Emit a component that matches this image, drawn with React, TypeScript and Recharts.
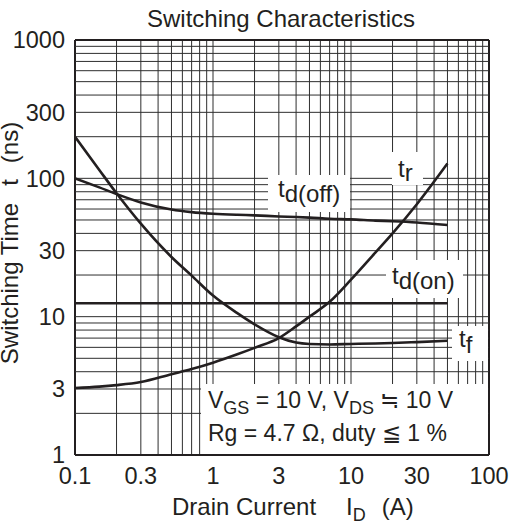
import { LineChart, Line, XAxis, YAxis, ReferenceLine } from "recharts";

// drain current (A) sample points, shared by all curves
const currentA = [0.1, 0.15, 0.2, 0.3, 0.5, 0.7, 1, 1.5, 2, 3, 4, 5, 7, 10, 15, 20, 30, 50];

// switching times (ns)
const trNs = [3.05, 3.12, 3.2, 3.37, 3.84, 4.18, 4.65, 5.35, 5.95, 7.0, 8.5, 10.0, 12.8, 18.5, 29, 40, 65, 128];
const tfNs = [200, 115, 78, 47, 27, 19.8, 14.2, 10.6, 8.8, 7.1, 6.5, 6.35, 6.3, 6.35, 6.4, 6.45, 6.55, 6.7];
const tdOffNs = [100, 86, 77, 67, 59.5, 57, 55.5, 54.5, 54, 53, 52.5, 52, 51, 50.5, 49.5, 49, 48, 46];
const tdOnNs = [12.5, 12.5, 12.5, 12.5, 12.5, 12.5, 12.5, 12.5, 12.5, 12.5, 12.5, 12.5, 12.5, 12.5, 12.5, 12.5, 12.5, 12.5];

const xTicks = [0.1, 0.3, 1, 3, 10, 30, 100];
const yTicks = [1, 3, 10, 30, 100, 300, 1000];

// log grid: 1..9 in every decade
const xGrid = [
  0.1, 0.2, 0.3, 0.4, 0.5, 0.6, 0.7, 0.8, 0.9,
  1, 2, 3, 4, 5, 6, 7, 8, 9,
  10, 20, 30, 40, 50, 60, 70, 80, 90, 100,
];
const yGrid = [
  1, 2, 3, 4, 5, 6, 7, 8, 9,
  10, 20, 30, 40, 50, 60, 70, 80, 90,
  100, 200, 300, 400, 500, 600, 700, 800, 900, 1000,
];

const FONT = '"Liberation Sans", Arial, Helvetica, sans-serif';
const INK = "#231f20";

const toPoints = (ys: number[]) => currentA.map((x, i) => ({ x, y: ys[i] }));

export default function App() {
  const tick = { fill: INK, fontSize: 23.5, fontFamily: FONT };
  const curve = { stroke: INK, strokeWidth: 2.6, dot: false, isAnimationActive: false };

  return (
    <div style={{ position: "absolute", left: 0, top: 0, width: 516, height: 525, background: "#fff" }}>
      <LineChart
        width={516}
        height={525}
        margin={{ top: 40, right: 27, bottom: 0, left: 0 }}
      >
        <XAxis
          dataKey="x"
          type="number"
          scale="log"
          domain={[0.1, 100]}
          ticks={xTicks}
          interval={0}
          allowDataOverflow
          tickLine={false}
          axisLine={false}
          tickSize={0}
          tickMargin={12}
          height={70}
          tick={tick}
          tickFormatter={(v) => String(v)}
        />
        <YAxis
          type="number"
          scale="log"
          domain={[1, 1000]}
          ticks={yTicks}
          interval={0}
          allowDataOverflow
          tickLine={false}
          axisLine={false}
          tickSize={0}
          tickMargin={10}
          width={75}
          tick={tick}
          tickFormatter={(v) => String(v)}
        />
        {xGrid.map((v) => (
          <ReferenceLine
            key={"x" + v}
            x={v}
            stroke={v === 0.1 || v === 100 ? INK : "#2e2e2e"}
            strokeWidth={v === 0.1 || v === 100 ? 2 : 1}
          />
        ))}
        {yGrid.map((v) => (
          <ReferenceLine
            key={"y" + v}
            y={v}
            stroke={v === 1 || v === 1000 ? INK : "#2e2e2e"}
            strokeWidth={v === 1 || v === 1000 ? 2 : 1}
          />
        ))}
        <Line data={toPoints(tdOffNs)} dataKey="y" type="monotone" {...curve} />
        <Line data={toPoints(tdOnNs)} dataKey="y" type="linear" {...curve} />
        <Line data={toPoints(tfNs)} dataKey="y" type="monotone" {...curve} />
        <Line data={toPoints(trNs)} dataKey="y" type="monotone" {...curve} />
      </LineChart>

      <svg
        width={516}
        height={525}
        style={{ position: "absolute", left: 0, top: 0, pointerEvents: "none" }}
        fontFamily={FONT}
        fill={INK}
      >
        <text x={281} y={27} fontSize={24} textAnchor="middle" fill={INK}>
          Switching Characteristics
        </text>

        <text transform="translate(18,243) rotate(-90)" fontSize={24} textAnchor="middle" fill={INK}>
          Switching Time
          <tspan dx={17}>t</tspan>
          <tspan dx={16}>(ns)</tspan>
        </text>

        <text x={172} y={515} fontSize={24} fill={INK}>
          Drain Current
          <tspan dx={30}>I</tspan>
          <tspan fontSize={18} dy={6}>D</tspan>
          <tspan dx={16} dy={-6}>(A)</tspan>
        </text>

        {/* curve labels */}
        <rect x={392} y={152} width={31} height={33} fill="#fff" />
        <text x={398} y={177} fontSize={24} fill={INK}>
          t<tspan dy={4}>r</tspan>
        </text>

        <rect x={268} y={175} width={82} height={37} fill="#fff" />
        <text x={278} y={197} fontSize={24} fill={INK}>
          t<tspan dy={5}>d(off)</tspan>
        </text>

        <rect x={386} y={260} width={77} height={38} fill="#fff" />
        <text x={392} y={284} fontSize={24} fill={INK}>
          t<tspan dy={5}>d(on)</tspan>
        </text>

        <rect x={452} y={326} width={36} height={35} fill="#fff" />
        <text x={459} y={347} fontSize={24} fill={INK}>
          t<tspan dy={6}>f</tspan>
        </text>

        {/* test conditions */}
        <rect x={201} y={384} width={287} height={70} fill="#fff" />
        <text x={208} y={408} fontSize={23} fill={INK}>
          V<tspan fontSize={18} dy={6}>GS</tspan>
          <tspan dy={-6}> = 10 V, V</tspan>
          <tspan fontSize={18} dy={6}>DS</tspan>
          <tspan dy={-6}> ≒ 10 V</tspan>
        </text>
        <text x={208} y={441} fontSize={23} fill={INK}>
          Rg = 4.7 Ω, duty ≦ 1 %
        </text>
      </svg>
    </div>
  );
}
